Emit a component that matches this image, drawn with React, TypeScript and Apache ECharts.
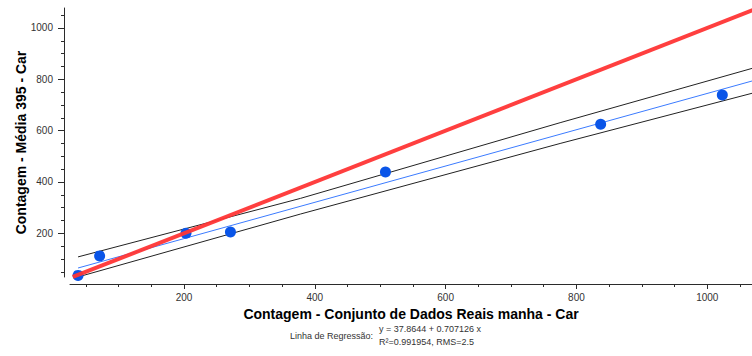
import { useEffect, useRef } from "react";
import * as echarts from "echarts";

// Observed counts: real dataset (x) vs. model average (y)
const realCounts = [38, 71, 203, 271, 508, 837, 1023];
const modelCounts = [36, 112, 200, 205, 439, 625, 739];

// Fitted regression line
const regIntercept = 37.8644;
const regSlope = 0.707126;
const regR2 = 0.991954;
const regRms = 2.5;
const regSpan = [38, 1075];

// Band around the regression line
const bandX = [38, 378, 775, 1069];
const bandUpper = [108, 336, 631, 843];
const bandLower = [30, 275, 550, 746];

// Identity line y = x
const identitySpan = [30, 1075];

// Axis ticks
const xTickLabels = [200, 400, 600, 800, 1000];
const yTickLabels = [200, 400, 600, 800, 1000];
const minorTicks = [
  50, 100, 150, 250, 300, 350, 450, 500, 550, 650, 700, 750, 850, 900, 950, 1050,
];

const X_MIN = 25.7;
const X_MAX = 1068.4;
const Y_MIN = 29.7;
const Y_MAX = 1077.9;

const FONT = "'Liberation Sans', Arial, sans-serif";

export default function App() {
  const ref = useRef<HTMLDivElement>(null);

  useEffect(() => {
    if (!ref.current) return;
    const chart = echarts.init(ref.current, undefined, { renderer: "svg" });

    const axisLine = { show: true, lineStyle: { color: "#2b2b2b", width: 1 } };
    const plain = (v: number) => String(v);

    const points = realCounts.map((x, i) => [x, modelCounts[i]]);
    const regLine = regSpan.map((x) => [x, regIntercept + regSlope * x]);
    const upper = bandX.map((x, i) => [x, bandUpper[i]]);
    const lower = bandX.map((x, i) => [x, bandLower[i]]);
    const identity = identitySpan.map((v) => [v, v]);

    chart.setOption({
      animation: false,
      backgroundColor: "#ffffff",
      grid: { left: 70, top: 8, right: 0, bottom: 79, containLabel: false },
      xAxis: [
        {
          type: "value",
          min: X_MIN,
          max: X_MAX,
          position: "bottom",
          offset: 7,
          name: "Contagem - Conjunto de Dados Reais manha - Car",
          nameLocation: "middle",
          nameGap: 16,
          nameTextStyle: {
            fontFamily: FONT,
            fontSize: 14,
            fontWeight: "bold",
            color: "#000",
            verticalAlign: "top",
          },
          axisLine,
          splitLine: { show: false },
          axisTick: {
            show: true,
            length: 5,
            customValues: xTickLabels,
            lineStyle: { color: "#2b2b2b" },
          },
          axisLabel: {
            customValues: xTickLabels,
            formatter: plain,
            margin: 8,
            fontFamily: FONT,
            fontSize: 10,
            color: "#333",
          },
        },
        {
          type: "value",
          min: X_MIN,
          max: X_MAX,
          position: "bottom",
          offset: 7,
          axisLine: { show: false },
          splitLine: { show: false },
          axisTick: {
            show: true,
            length: 3,
            customValues: minorTicks,
            lineStyle: { color: "#2b2b2b" },
          },
          axisLabel: { show: false },
        },
      ],
      yAxis: [
        {
          type: "value",
          min: Y_MIN,
          max: Y_MAX,
          position: "left",
          offset: 6,
          name: "Contagem - Média 395 - Car",
          nameLocation: "middle",
          nameGap: 36,
          nameMoveOverlap: false,
          nameTextStyle: {
            fontFamily: FONT,
            fontSize: 14,
            fontWeight: "bold",
            color: "#000",
          },
          axisLine,
          splitLine: { show: false },
          axisTick: {
            show: true,
            length: 6,
            customValues: yTickLabels,
            lineStyle: { color: "#2b2b2b" },
          },
          axisLabel: {
            customValues: yTickLabels,
            formatter: plain,
            margin: 11,
            fontFamily: FONT,
            fontSize: 10,
            color: "#333",
          },
        },
        {
          type: "value",
          min: Y_MIN,
          max: Y_MAX,
          position: "left",
          offset: 6,
          axisLine: { show: false },
          splitLine: { show: false },
          axisTick: {
            show: true,
            length: 3,
            customValues: minorTicks,
            lineStyle: { color: "#2b2b2b" },
          },
          axisLabel: { show: false },
        },
      ],
      series: [
        {
          type: "line",
          data: upper,
          showSymbol: false,
          lineStyle: { color: "#222", width: 1 },
          z: 2,
        },
        {
          type: "line",
          data: lower,
          showSymbol: false,
          lineStyle: { color: "#222", width: 1 },
          z: 2,
        },
        {
          type: "line",
          data: regLine,
          showSymbol: false,
          lineStyle: { color: "#3b7bff", width: 1 },
          z: 3,
        },
        {
          type: "scatter",
          data: points,
          symbolSize: 11,
          itemStyle: { color: "#0a55e8", opacity: 1 },
          z: 4,
        },
        {
          type: "line",
          data: identity,
          showSymbol: false,
          lineStyle: { color: "#ff3535", width: 4, opacity: 0.95 },
          z: 5,
        },
      ],
      graphic: [
        {
          type: "text",
          left: 290,
          top: 331,
          style: {
            text: "Linha de Regressão:",
            font: `9px ${FONT}`,
            fill: "#333",
          },
        },
        {
          type: "text",
          left: 379,
          top: 324,
          style: {
            text: `y = ${regIntercept} + ${regSlope} x`,
            font: `9px ${FONT}`,
            fill: "#333",
          },
        },
        {
          type: "text",
          left: 379,
          top: 337,
          style: {
            text: `R²=${regR2}, RMS=${regRms}`,
            font: `9px ${FONT}`,
            fill: "#333",
          },
        },
      ],
    });

    return () => chart.dispose();
  }, []);

  return (
    <div
      ref={ref}
      style={{ position: "fixed", left: 0, top: 0, width: 752, height: 356 }}
    />
  );
}
